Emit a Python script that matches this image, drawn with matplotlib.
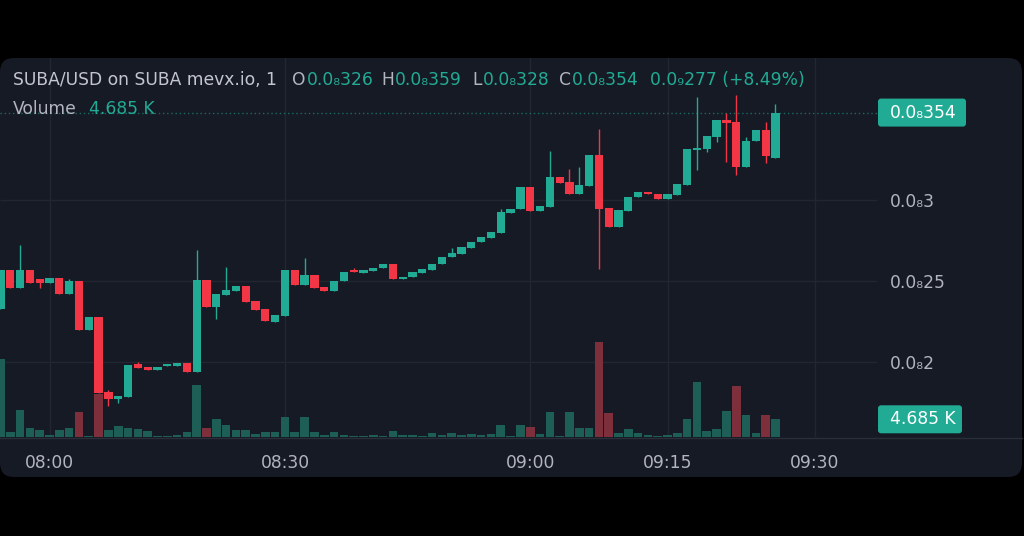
import matplotlib
matplotlib.use('Agg')
import matplotlib.pyplot as plt
from matplotlib.patches import FancyBboxPatch
from matplotlib.lines import Line2D
from matplotlib.transforms import IdentityTransform, blended_transform_factory

plt.rcParams['font.family'] = ['DejaVu Sans']

# 1-minute candles, prices in units of 1e-9 USD (0.0₈3 == 3.0)
opens = [2.33, 2.57, 2.46, 2.57, 2.51, 2.49, 2.52, 2.42, 2.50, 2.20,
         2.28, 1.815, 1.772, 1.784, 1.988, 1.969, 1.951, 1.978, 1.975, 1.994,
         1.938, 2.506, 2.340, 2.414, 2.438, 2.469, 2.377, 2.327, 2.247, 2.284,
         2.568, 2.475, 2.537, 2.463, 2.438, 2.500, 2.568, 2.549, 2.562, 2.580,
         2.605, 2.512, 2.525, 2.549, 2.568, 2.605, 2.648, 2.667, 2.704, 2.741,
         2.765, 2.796, 2.920, 2.944, 3.080, 2.932, 2.957, 3.142, 3.111, 3.037,
         3.086, 3.278, 2.951, 2.833, 2.932, 3.019, 3.049, 3.037, 3.006, 3.031,
         3.093, 3.312, 3.315, 3.389, 3.494, 3.481, 3.204, 3.364, 3.432, 3.26]
highs = [2.57, 2.57, 2.72, 2.57, 2.51, 2.52, 2.52, 2.51, 2.50, 2.28,
         2.28, 1.827, 1.790, 1.981, 2.000, 1.969, 1.969, 1.981, 1.994, 1.994,
         2.691, 2.506, 2.420, 2.586, 2.469, 2.469, 2.377, 2.327, 2.290, 2.568,
         2.568, 2.642, 2.537, 2.463, 2.500, 2.556, 2.580, 2.568, 2.580, 2.605,
         2.605, 2.525, 2.556, 2.574, 2.605, 2.648, 2.704, 2.710, 2.741, 2.772,
         2.802, 2.944, 2.944, 3.080, 3.080, 2.963, 3.302, 3.142, 3.191, 3.204,
         3.278, 3.438, 2.951, 2.938, 3.019, 3.049, 3.049, 3.037, 3.037, 3.099,
         3.315, 3.636, 3.395, 3.494, 3.537, 3.648, 3.389, 3.432, 3.481, 3.59]
lows = [2.33, 2.46, 2.46, 2.49, 2.46, 2.49, 2.42, 2.42, 2.20, 2.20,
        1.81, 1.728, 1.747, 1.784, 1.963, 1.951, 1.951, 1.978, 1.975, 1.938,
        1.938, 2.340, 2.265, 2.414, 2.438, 2.370, 2.321, 2.253, 2.247, 2.284,
        2.475, 2.475, 2.457, 2.438, 2.438, 2.500, 2.556, 2.549, 2.562, 2.580,
        2.512, 2.512, 2.525, 2.549, 2.568, 2.605, 2.648, 2.667, 2.704, 2.741,
        2.765, 2.796, 2.920, 2.944, 2.932, 2.932, 2.957, 3.105, 3.037, 3.037,
        3.086, 2.574, 2.833, 2.833, 2.932, 3.019, 3.037, 3.006, 3.006, 3.031,
        3.093, 3.185, 3.296, 3.358, 3.235, 3.154, 3.204, 3.364, 3.228, 3.26]
closes = [2.57, 2.46, 2.57, 2.49, 2.49, 2.52, 2.42, 2.50, 2.20, 2.28,
          1.81, 1.772, 1.790, 1.981, 1.963, 1.951, 1.969, 1.981, 1.994, 1.938,
          2.506, 2.340, 2.420, 2.444, 2.469, 2.370, 2.321, 2.253, 2.290, 2.568,
          2.475, 2.537, 2.457, 2.438, 2.500, 2.556, 2.556, 2.568, 2.580, 2.605,
          2.512, 2.525, 2.556, 2.574, 2.605, 2.648, 2.673, 2.710, 2.741, 2.772,
          2.802, 2.926, 2.944, 3.080, 2.932, 2.963, 3.142, 3.105, 3.037, 3.093,
          3.278, 2.944, 2.833, 2.938, 3.019, 3.049, 3.037, 3.006, 3.037, 3.099,
          3.315, 3.321, 3.395, 3.494, 3.475, 3.204, 3.364, 3.432, 3.272, 3.54]
# volume in thousands
volumes = [20.6, 1.24, 7.07, 2.30, 1.77, 0.61, 1.77, 2.30, 6.54, 0.34,
           11.46, 1.77, 2.83, 2.46, 2.20, 1.59, 0.34, 0.34, 0.61, 1.24,
           13.84, 2.46, 4.76, 3.26, 1.77, 1.77, 0.79, 1.24, 1.24, 5.21,
           1.24, 5.21, 1.24, 0.53, 1.24, 0.53, 0.34, 0.34, 0.53, 0.34,
           1.51, 0.53, 0.53, 0.26, 0.98, 0.53, 0.98, 0.45, 0.71, 0.45,
           0.71, 3.26, 0.26, 3.26, 2.73, 0.79, 6.54, 0.26, 6.54, 2.46,
           2.46, 25.15, 6.27, 0.98, 2.12, 0.98, 0.53, 0.26, 0.53, 0.98,
           4.76, 14.64, 1.51, 2.04, 6.80, 13.42, 5.90, 1.06, 5.90, 4.685]
vol_red = [8, 10, 21, 54, 61, 62, 75, 78]

price_ticks = [2.0, 2.5, 3.0]
price_labels = ['0.0₈2', '0.0₈25', '0.0₈3']
time_pos = [5, 29, 54, 68, 83]
time_labels = ['08:00', '08:30', '09:00', '09:15', '09:30']

W, H = 1024, 536
PANEL = '#161a25'
GRID = '#222631'
UP = '#22ab94'
DOWN = '#f23645'
VOL_UP = '#1d5e57'
VOL_DOWN = '#7e2f3c'
TEXT = '#b2b5be'
FS = 12.3

fig = plt.figure(figsize=(W / 100, H / 100), dpi=100, facecolor='black')


def row(y):
    # image row (from top) -> display y
    return H - y


panel = FancyBboxPatch((0, row(477)), 1022, 419, boxstyle='round,pad=0,rounding_size=14',
                       fc=PANEL, ec='none', transform=IdentityTransform(), zorder=-5)
fig.add_artist(panel)

rect = [0, (H - 437) / H, 877 / W, 379 / H]
ax_vol = fig.add_axes(rect, zorder=1)
ax = fig.add_axes(rect, zorder=2, sharex=ax_vol)
for a in (ax_vol, ax):
    a.set_facecolor('none')
    for s in a.spines.values():
        s.set_visible(False)

idx = list(range(len(opens)))
ax.set_xlim(-0.05, 89.35)
ax.set_ylim(1.537, 3.877)
ax_vol.set_ylim(0, 100.3)

# grid (drawn behind volume bars)
ax_vol.set_xticks(time_pos)
ax_vol.grid(axis='x', color=GRID, lw=1)
ax_vol.hlines(price_ticks, 0, 1, transform=blended_transform_factory(ax_vol.transAxes, ax.transData),
              color=GRID, lw=1, zorder=0)
ax_vol.tick_params(left=False, labelleft=False, bottom=False, labelbottom=False)

vcols = [VOL_DOWN if i in vol_red else VOL_UP for i in idx]
ax_vol.bar(idx, volumes, width=0.88, color=vcols, zorder=2)

# candles
ccols = [UP if c >= o else DOWN for o, c in zip(opens, closes)]
bottoms = [min(o, c) for o, c in zip(opens, closes)]
heights = [max(abs(c - o), 0.008) for o, c in zip(opens, closes)]
ax.vlines(idx, lows, highs, colors=ccols, lw=1, zorder=3)
ax.bar(idx, heights, bottom=bottoms, width=0.84, color=ccols, zorder=4)

ax.axhline(closes[-1], color=UP, alpha=0.55, lw=1, ls=(0, (1, 2)), zorder=1)

ax.yaxis.tick_right()
ax.set_yticks(price_ticks)
ax.set_yticklabels(price_labels)
ax.tick_params(axis='y', length=0, pad=9.4, labelcolor=TEXT, labelsize=FS)
ax.set_xticks(time_pos)
ax.set_xticklabels(time_labels)
ax.tick_params(axis='x', length=0, pad=12.5, labelcolor=TEXT, labelsize=FS)

fig.add_artist(Line2D([0, 1022], [row(437.5)] * 2, transform=IdentityTransform(), color='#2a2e39', lw=1))

# last price / last volume boxes on the scale
y_price = ax.transData.transform((0, closes[-1]))[1]
y_vol = ax_vol.transData.transform((0, volumes[-1]))[1]
for yc, w, txt in [(y_price, 88, '0.0₈354'), (y_vol, 84, '4.685 K')]:
    fig.add_artist(FancyBboxPatch((878, yc - 14), w, 28, boxstyle='round,pad=0,rounding_size=3',
                                  fc=UP, ec='none', transform=IdentityTransform(), zorder=5))
    fig.text(890, yc, txt, color='white', fontsize=FS, ha='left', va='center',
             transform=IdentityTransform(), zorder=6)

# legend header: (x of label, label, value); value follows its label directly
renderer = fig.canvas.get_renderer()
fig.text(13, row(80), 'SUBA/USD on SUBA mevx.io, 1', color='#c3c6ce', fontsize=FS,
         ha='left', va='center', transform=IdentityTransform())
header = [(292, 'O', '0.0₈326'), (381, 'H', '0.0₈359'), (472, 'L', '0.0₈328'),
          (559, 'C', '0.0₈354'), (650, '', '0.0₉277 (+8.49%)')]
for x, lab, val in header:
    xv = x
    if lab:
        t = fig.text(x, row(80), lab, color=TEXT, fontsize=FS, ha='left', va='center',
                     transform=IdentityTransform())
        xv = t.get_window_extent(renderer).x1 + 1
    fig.text(xv, row(80), val, color=UP, fontsize=FS, ha='left', va='center',
             transform=IdentityTransform())
fig.text(13, row(109), 'Volume', color=TEXT, fontsize=FS, ha='left', va='center',
         transform=IdentityTransform())
fig.text(89, row(109), '4.685 K', color=UP, fontsize=FS, ha='left', va='center',
         transform=IdentityTransform())

fig.savefig('out.png', dpi=100, facecolor='black')
